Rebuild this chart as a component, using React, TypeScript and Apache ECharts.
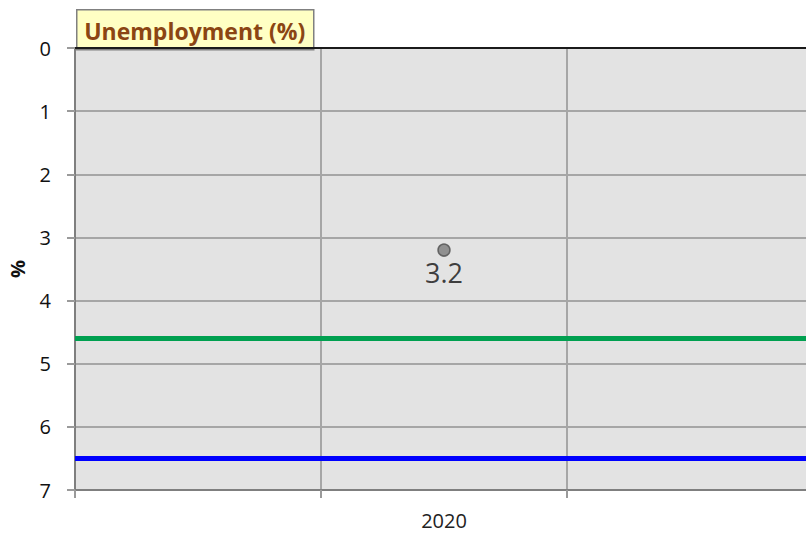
import React, { useEffect, useRef } from "react";
import * as echarts from "echarts";

const categories = ["", "2020", ""];
const unemployment = [["2020", 3.2]];
const greenLevel = 4.6;
const blueLevel = 6.5;
const yTicks = { min: 0, max: 7, interval: 1 };

export default function App() {
  const ref = useRef<HTMLDivElement>(null);
  useEffect(() => {
    if (!ref.current) return;
    const chart = echarts.init(ref.current, undefined, { renderer: "svg" });
    const font = "Open Sans, Liberation Sans, sans-serif";
    chart.setOption({
      animation: false,
      grid: {
        left: 75,
        top: 48,
        bottom: 49,
        right: -7,
        outerBoundsMode: "none",
        containLabel: false,
        show: true,
        backgroundColor: "#e3e3e3",
        borderWidth: 0,
      },
      xAxis: [
        {
          type: "category",
          data: categories,
          position: "bottom",
          boundaryGap: true,
          axisLine: { onZero: false, lineStyle: { color: "#7f7f7f", width: 2 } },
          axisTick: { show: true, length: 8, lineStyle: { color: "#9a9a9a", width: 2 } },
          axisLabel: { color: "#222", fontSize: 20, fontFamily: font, margin: 20 },
          splitLine: { show: true, lineStyle: { color: "#a6a6a6", width: 2 } },
        },
        {
          type: "category",
          data: categories,
          position: "top",
          axisLine: { onZero: false, lineStyle: { color: "#1a1a1a", width: 2 } },
          axisTick: { show: false },
          axisLabel: { show: false },
          splitLine: { show: false },
        },
      ],
      yAxis: {
        type: "value",
        inverse: true,
        min: yTicks.min,
        max: yTicks.max,
        interval: yTicks.interval,
        name: "%",
        nameLocation: "middle",
        nameGap: 48,
        nameRotate: 90,
        nameTextStyle: { fontSize: 20, fontWeight: "bold", color: "#111", fontFamily: font },
        axisLine: { show: true, lineStyle: { color: "#7f7f7f", width: 2 } },
        axisTick: { show: true, length: 8, lineStyle: { color: "#9a9a9a", width: 2 } },
        axisLabel: { color: "#111", fontSize: 20, fontFamily: font, margin: 24 },
        splitLine: { show: true, lineStyle: { color: "#a6a6a6", width: 2 } },
      },
      series: [
        {
          type: "scatter",
          data: unemployment,
          symbolSize: 12,
          itemStyle: { color: "#7a7a7a", borderColor: "#505050", borderWidth: 1.5 },
          label: {
            show: true,
            position: "bottom",
            distance: 2,
            fontSize: 27,
            color: "#111",
            fontFamily: font,
            formatter: (p: any) => String(p.value[1]),
          },
          markLine: {
            silent: true,
            symbol: "none",
            label: { show: false },
            data: [
              { yAxis: greenLevel, lineStyle: { color: "#00a050", width: 5, type: "solid" } },
              { yAxis: blueLevel, lineStyle: { color: "#0000ff", width: 5, type: "solid" } },
            ],
          },
          z: 5,
        },
      ],
      graphic: [
        {
          type: "group",
          left: 76,
          top: 9,
          z: 100,
          children: [
            {
              type: "rect",
              shape: { x: 0, y: 0, width: 237, height: 40 },
              style: { fill: "#ffffc4", stroke: "#808080", lineWidth: 1.5 },
            },
            {
              type: "text",
              x: 118,
              y: 21,
              style: {
                text: "Unemployment (%)",
                fill: "#8b4513",
                font: "bold 23px " + font,
                textAlign: "center",
                textVerticalAlign: "middle",
              },
            },
          ],
        },
      ],
    });
    return () => chart.dispose();
  }, []);
  return <div ref={ref} style={{ width: 806, height: 539, position: "absolute", left: 0, top: 0 }} />;
}
